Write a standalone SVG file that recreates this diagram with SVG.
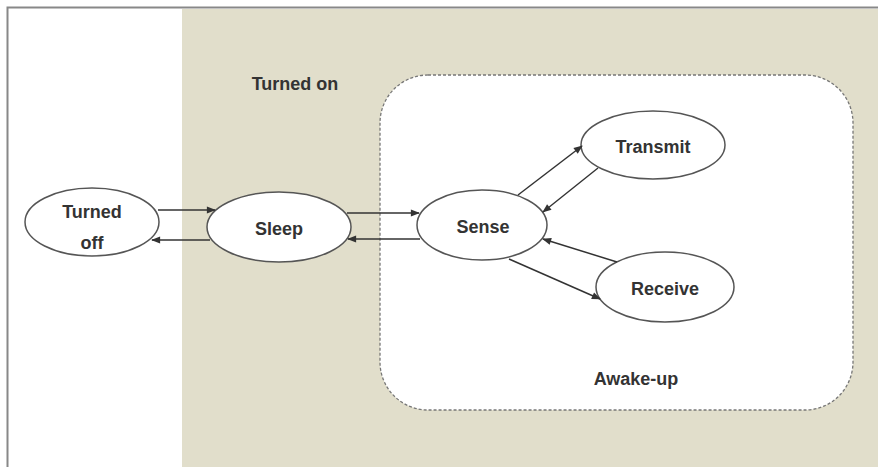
<svg xmlns="http://www.w3.org/2000/svg" width="878" height="467" viewBox="0 0 878 467">
<style>
.node ellipse{fill:#fff;stroke:#555;stroke-width:1.5}
text{font-family:"Liberation Sans",Arial,sans-serif;font-weight:bold;font-size:18px;fill:#333;text-anchor:middle}
.conn line{stroke:#333;stroke-width:1.5;marker-end:url(#ah)}
</style>
<defs>
<marker id="ah" viewBox="0 0 10 10" refX="9" refY="5" markerWidth="10" markerHeight="9" markerUnits="userSpaceOnUse" orient="auto">
<path d="M0,1 L10,5 L0,9 z" fill="#333"/>
</marker>
</defs>
<rect x="0" y="0" width="878" height="467" fill="#fff"/>
<rect x="182" y="9" width="696" height="458" fill="#E1DECB"/>
<path d="M7.5,467 V7.5 H878" fill="none" stroke="#888" stroke-width="2"/>
<g id="awake">
<rect x="380" y="75" width="473" height="335" rx="48" ry="48" fill="#fff" stroke="#777" stroke-width="1.3" stroke-dasharray="3,2"/>
<text x="636" y="385">Awake-up</text>
</g>
<text id="turned-on-label" x="295" y="90">Turned on</text>
<g id="turned-off" class="node">
<ellipse cx="92" cy="222" rx="67" ry="34"/>
<text x="92" y="218">Turned</text>
<text x="92" y="249">off</text>
</g>
<g id="sleep" class="node">
<ellipse cx="279" cy="227" rx="72" ry="35"/>
<text x="279" y="235">Sleep</text>
</g>
<g id="sense" class="node">
<ellipse cx="482" cy="225" rx="65" ry="35"/>
<text x="483" y="233">Sense</text>
</g>
<g id="transmit" class="node">
<ellipse cx="653" cy="145" rx="72" ry="34"/>
<text x="653" y="153">Transmit</text>
</g>
<g id="receive" class="node">
<ellipse cx="665" cy="287" rx="69" ry="35"/>
<text x="665" y="295">Receive</text>
</g>
<g id="connectors" class="conn">
<line x1="158" y1="210" x2="215" y2="210"/>
<line x1="210" y1="240" x2="152" y2="240"/>
<line x1="347" y1="213" x2="419" y2="213"/>
<line x1="420" y1="239" x2="348" y2="239"/>
<line x1="518" y1="195" x2="582" y2="146"/>
<line x1="598" y1="168" x2="543" y2="212"/>
<line x1="617" y1="262" x2="543" y2="239"/>
<line x1="509" y1="259" x2="600" y2="299"/>
</g>
</svg>
